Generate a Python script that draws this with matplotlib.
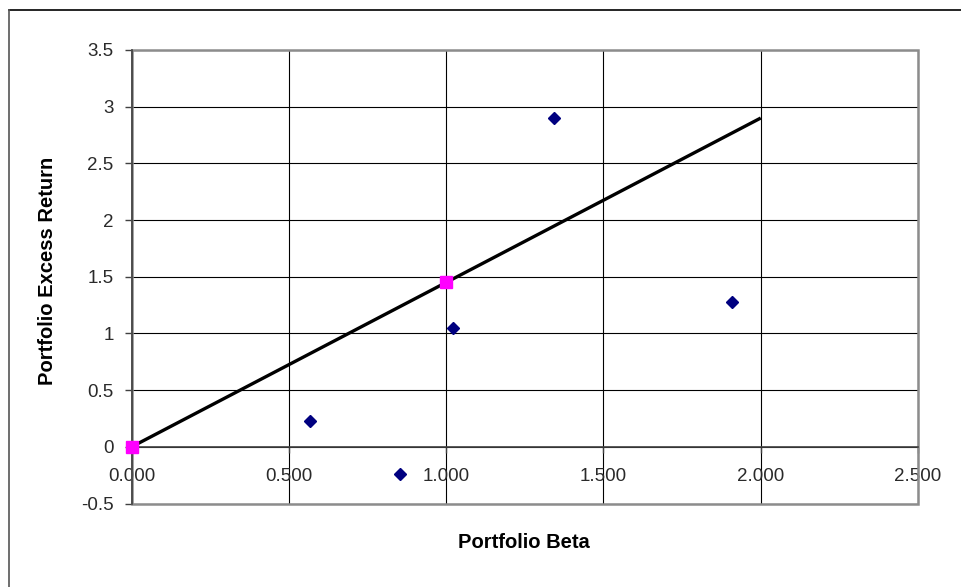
import matplotlib
matplotlib.use("Agg")
import matplotlib.pyplot as plt
from matplotlib.lines import Line2D
from matplotlib.patches import Rectangle

# Portfolio data
portfolio_beta = [0.568, 0.854, 1.023, 1.344, 1.909]
portfolio_return = [0.23, -0.24, 1.05, 2.90, 1.28]

# Risk-free asset and market portfolio
market_beta = [0.0, 1.0]
market_return = [0.0, 1.45]

# Security market line endpoints
sml_beta = [0.0, 2.0]
sml_return = [0.0, 2.9]

x_ticks = [0.0, 0.5, 1.0, 1.5, 2.0, 2.5]
y_ticks = [-0.5, 0, 0.5, 1, 1.5, 2, 2.5, 3, 3.5]

plt.rcParams["font.family"] = ["Liberation Sans", "DejaVu Sans"]

W, H = 961, 587
fig = plt.figure(figsize=(W / 100, H / 100), dpi=100)

left, right, top, bottom = 131.7, 918.0, 50.0, 503.5
ax = fig.add_axes([left / W, 1 - bottom / H, (right - left) / W, (bottom - top) / H])

ax.set_xlim(0, 2.5)
ax.set_ylim(-0.5, 3.5)
ax.set_xticks(x_ticks)
ax.set_yticks(y_ticks)
ax.set_xticklabels([f"{v:.3f}" for v in x_ticks])
ax.set_yticklabels([f"{v:g}" for v in y_ticks])

# gridlines
ax.grid(True, color="black", linewidth=0.8, zorder=0)
ax.set_axisbelow(True)

# spines: y axis on left, x axis crossing at zero
for s in ["top", "right"]:
    ax.spines[s].set_visible(False)
ax.spines["left"].set_color("#404040")
ax.spines["left"].set_linewidth(1.2)
ax.spines["bottom"].set_position(("data", 0))
ax.spines["bottom"].set_color("#404040")
ax.spines["bottom"].set_linewidth(1.2)

# gray plot-area border
ax.add_patch(Rectangle((0, 0), 1, 1, transform=ax.transAxes, fill=False,
                       edgecolor="#8c8c8c", linewidth=1.8, zorder=1, clip_on=False))

ax.tick_params(axis="y", direction="out", length=5, width=1, color="#404040",
               labelsize=13.5, labelcolor="#2a2a2a", pad=8)
ax.tick_params(axis="x", direction="out", length=4, width=1, color="#404040",
               labelsize=13.5, labelcolor="#2a2a2a", pad=11)

ax.plot(sml_beta, sml_return, color="black", linewidth=2.4, zorder=3,
        clip_on=False, solid_capstyle="butt")
ax.plot(market_beta, market_return, linestyle="none", marker="s", markersize=8,
        color="#ff00ff", zorder=4, clip_on=False)
ax.plot(portfolio_beta, portfolio_return, linestyle="none", marker="D",
        markersize=5.8, color="#000080", zorder=5, clip_on=False)

fig.text(524 / W, 1 - 543 / H, "Portfolio Beta", ha="center", va="center",
         fontsize=14.5, fontweight="bold", color="black")
fig.text(48 / W, 1 - 271 / H, "Portfolio Excess Return", ha="center", va="center",
         rotation=90, fontsize=14.5, fontweight="bold", color="black")

# outer chart frame
fig.add_artist(Line2D([9 / W, 1.0], [1 - 9.5 / H, 1 - 9.5 / H], color="black",
                      linewidth=1.2, transform=fig.transFigure))
fig.add_artist(Line2D([9 / W, 9 / W], [0.0, 1 - 9.5 / H], color="#555555",
                      linewidth=1.2, transform=fig.transFigure))

fig.savefig("out.png", dpi=100)
